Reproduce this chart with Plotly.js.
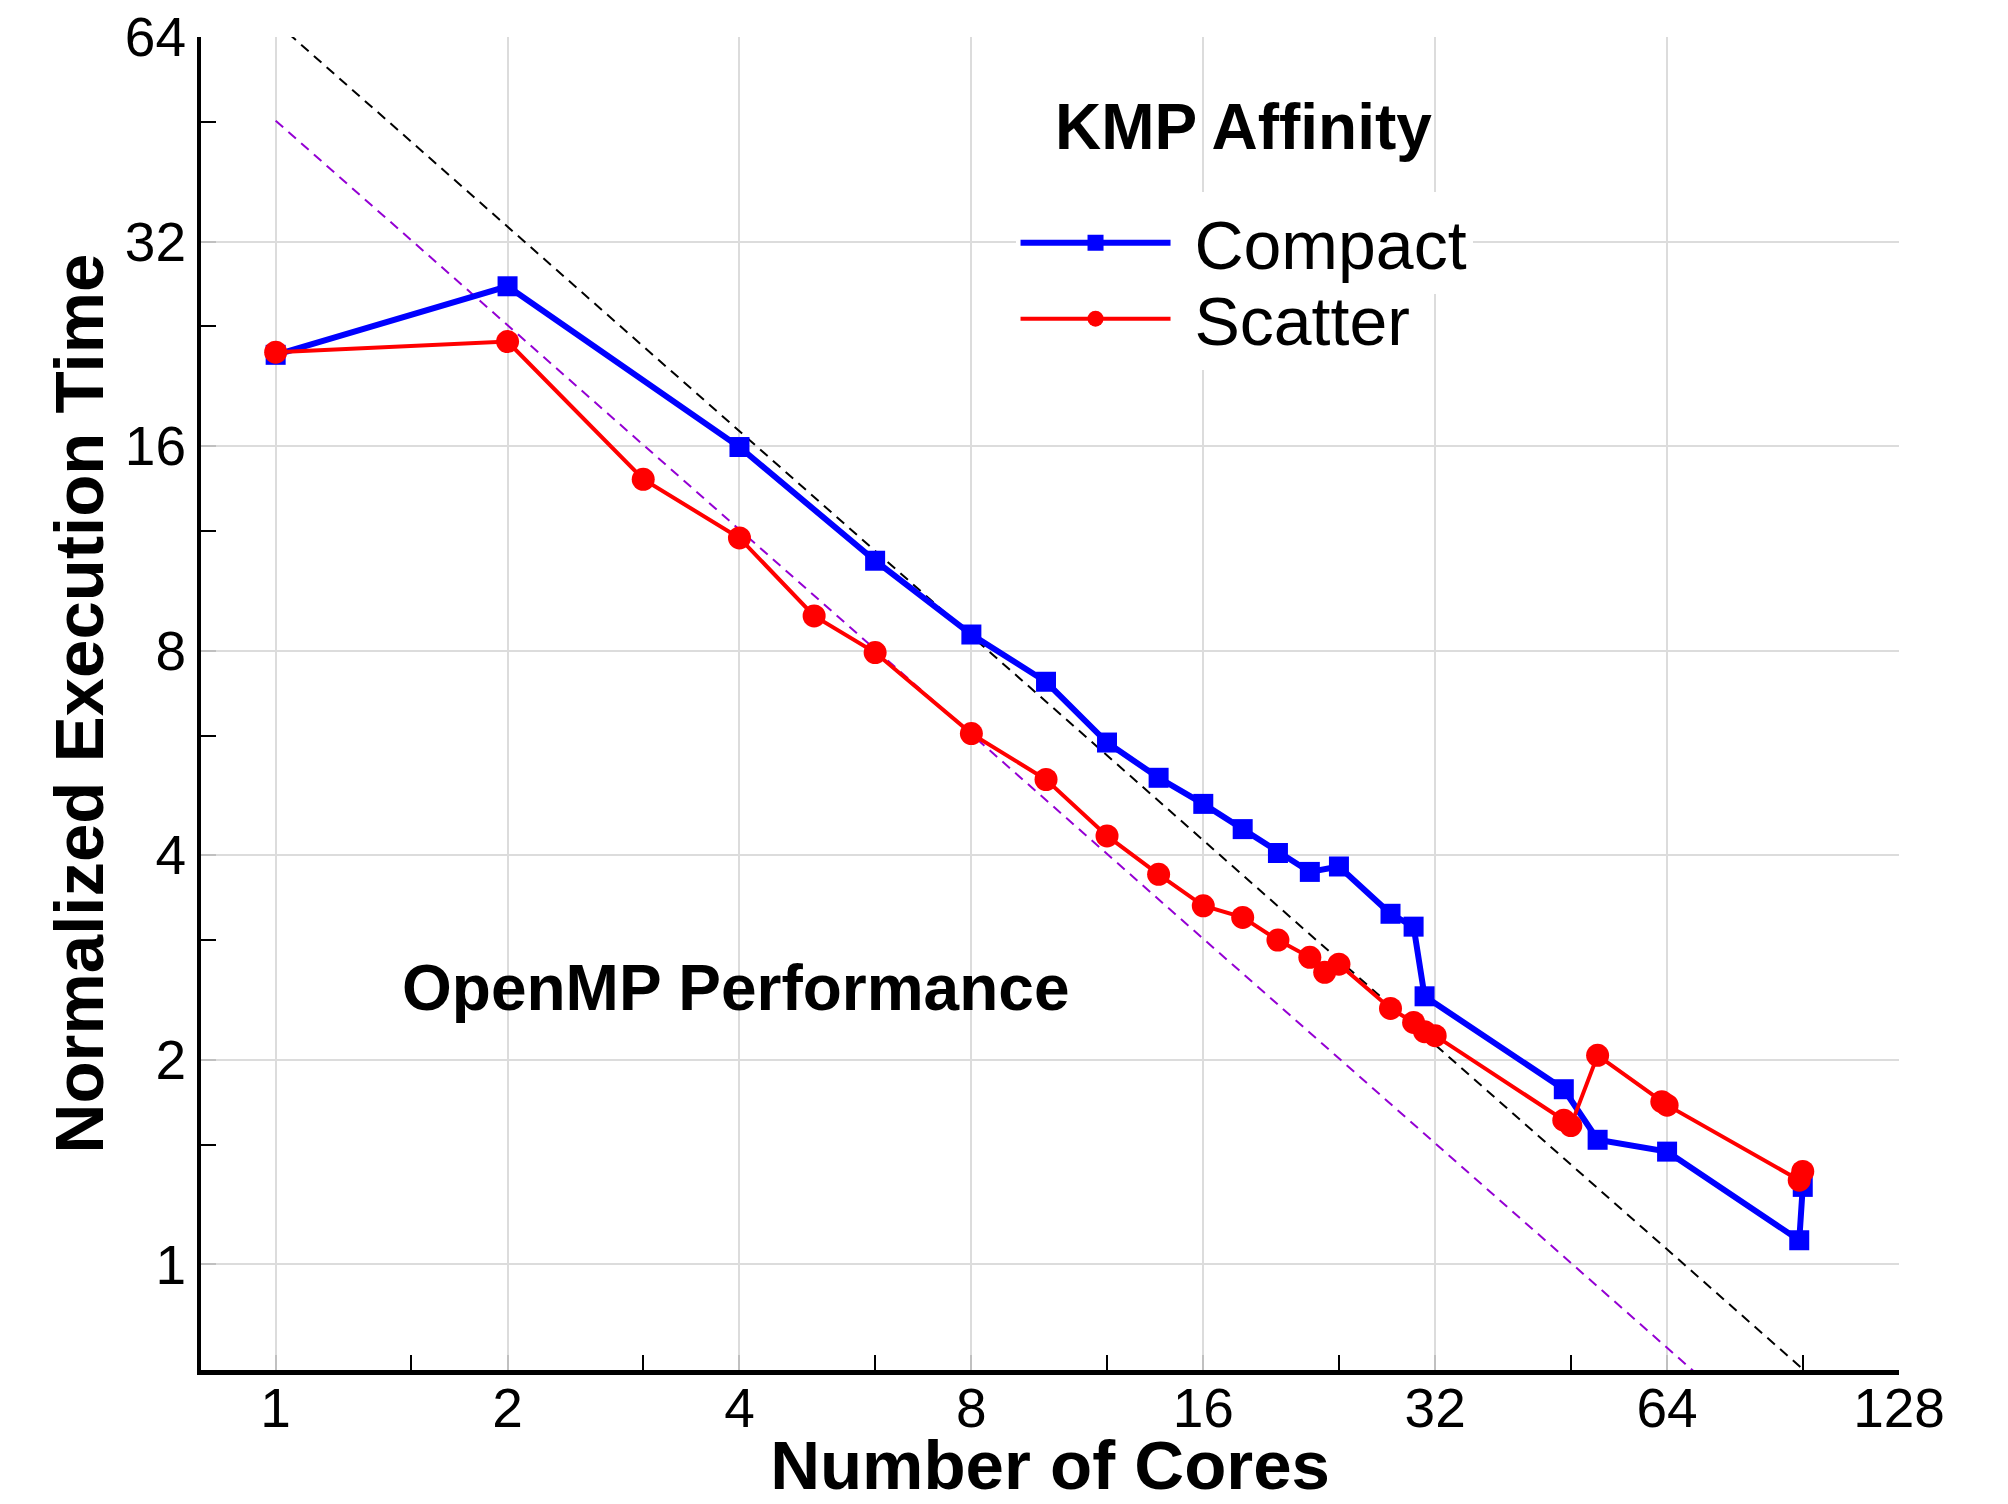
<!DOCTYPE html>
<html>
<head>
<meta charset="utf-8">
<script src="https://cdn.plot.ly/plotly-3.0.1.min.js"></script>
<style>
html,body{margin:0;padding:0;background:#fff;}
#chart{width:2008px;height:1504px;}
</style>
</head>
<body>
<div id="chart"></div>
<script>
// ---- data ----
const compactCores = [1, 2, 4, 6, 8, 10, 12, 14, 16, 18, 20, 22, 24, 28, 30, 31, 47, 52, 64, 95, 96];
const compactTime  = [21.8, 27.5, 15.95, 10.85, 8.45, 7.2, 5.86, 5.2, 4.76, 4.37, 4.03, 3.78, 3.85, 3.28, 3.14, 2.48, 1.81, 1.525, 1.465, 1.085, 1.30];

const scatterCores = [1, 2, 3, 4, 5, 6, 8, 10, 12, 14, 16, 18, 20, 22, 23, 24, 28, 30, 31, 32, 47, 48, 52, 63, 64, 95, 96];
const scatterTime  = [22.0, 22.8, 14.3, 11.72, 9.0, 7.95, 6.04, 5.17, 4.27, 3.75, 3.37, 3.24, 3.0, 2.83, 2.69, 2.765, 2.38, 2.27, 2.2, 2.17, 1.63, 1.60, 2.03, 1.735, 1.715, 1.33, 1.37];

// ideal-scaling reference lines (end points)
const idealCompactCores = [1, 97];
const idealCompactTime  = [67.3, 0.694];
const idealScatterCores = [1, 70];
const idealScatterTime  = [48.2, 0.689];

// axis ticks
const xTickVals = [1, 2, 4, 8, 16, 32, 64, 128];
const xTickText = ["1", "2", "4", "8", "16", "32", "64", "128"];
const xMinorVals = [1.5, 3, 6, 12, 24, 48, 96];
const yTickVals = [1, 2, 4, 8, 16, 32, 64];
const yTickText = ["1", "2", "4", "8", "16", "32", "64"];
const yMinorVals = [1.5, 3, 6, 12, 24, 48];

const seriesNames = ["Compact", "Scatter"];

const FONT = "Liberation Sans, Arial, Helvetica, sans-serif";
const NBSP = "\u00A0";

const traces = [
  {
    x: idealCompactCores, y: idealCompactTime, mode: "lines", showlegend: false,
    hoverinfo: "skip",
    line: {color: "#000000", width: 2, dash: "10px,7px"}
  },
  {
    x: idealScatterCores, y: idealScatterTime, mode: "lines", showlegend: false,
    hoverinfo: "skip",
    line: {color: "#9400D3", width: 2, dash: "10px,7px"}
  },
  {
    x: compactCores, y: compactTime, mode: "lines+markers", name: NBSP + seriesNames[0],
    legend: "legend2",
    line: {color: "#0000FF", width: 6},
    marker: {symbol: "square", size: 20, color: "#0000FF"}
  },
  {
    x: scatterCores, y: scatterTime, mode: "lines+markers", name: NBSP + seriesNames[1],
    legend: "legend",
    line: {color: "#FF0000", width: 4},
    marker: {symbol: "circle", size: 23, color: "#FF0000"}
  }
];

const legendStyle = {
  xanchor: "left", yanchor: "middle",
  bgcolor: "#ffffff", borderwidth: 0,
  font: {family: FONT, size: 68, color: "#000000"},
  itemwidth: 150, itemsizing: "trace"
};

const layout = {
  width: 2008, height: 1504,
  paper_bgcolor: "#ffffff", plot_bgcolor: "#ffffff",
  margin: {l: 201, r: 109, t: 37, b: 134, pad: 0},
  font: {family: FONT, color: "#000000"},
  showlegend: true,
  legend2: Object.assign({x: 0.4797, y: 0.8455}, legendStyle),
  legend: Object.assign({x: 0.4797, y: 0.7885}, legendStyle),
  xaxis: {
    type: "log",
    range: [Math.log10(0.8), Math.log10(128)],
    tickmode: "array", tickvals: xTickVals, ticktext: xTickText,
    ticks: "inside", ticklen: 15, tickwidth: 2, tickcolor: "#c0c0c0",
    tickfont: {family: FONT, size: 55, color: "#000000"},
    ticklabelstandoff: -14,
    showgrid: true, gridcolor: "#dcdcdc", gridwidth: 2,
    showline: true, linecolor: "#000000", linewidth: 5,
    zeroline: false,
    minor: {tickmode: "array", tickvals: xMinorVals, ticks: "inside", ticklen: 15, tickwidth: 2, tickcolor: "#000000", showgrid: false},
    title: {text: "Number of Cores", font: {family: FONT, size: 69, weight: "bold", color: "#000000"}, standoff: 34}
  },
  yaxis: {
    type: "log",
    range: [Math.log10(0.699), Math.log10(64)],
    tickmode: "array", tickvals: yTickVals, ticktext: yTickText,
    ticks: "inside", ticklen: 15, tickwidth: 2, tickcolor: "#c0c0c0",
    tickfont: {family: FONT, size: 55, color: "#000000"},
    showgrid: true, gridcolor: "#dcdcdc", gridwidth: 2,
    showline: true, linecolor: "#000000", linewidth: 4,
    zeroline: false,
    minor: {tickmode: "array", tickvals: yMinorVals, ticks: "inside", ticklen: 15, tickwidth: 2, tickcolor: "#000000", showgrid: false},
    title: {text: "Normalized Execution Time", font: {family: FONT, size: 69, weight: "bold", color: "#000000"}, standoff: 0}
  },
  annotations: [
    {
      text: "KMP Affinity", xref: "paper", yref: "paper", x: 0.614, y: 0.9325,
      xanchor: "center", yanchor: "middle", showarrow: false,
      font: {family: FONT, size: 64, weight: "bold", color: "#000000"}
    },
    {
      text: "OpenMP Performance", xref: "paper", yref: "paper", x: 0.3145, y: 0.2866,
      xanchor: "center", yanchor: "middle", showarrow: false,
      font: {family: FONT, size: 64, weight: "bold", color: "#000000"}
    }
  ]
};

Plotly.newPlot("chart", traces, layout, {displayModeBar: false, staticPlot: true});
</script>
</body>
</html>
